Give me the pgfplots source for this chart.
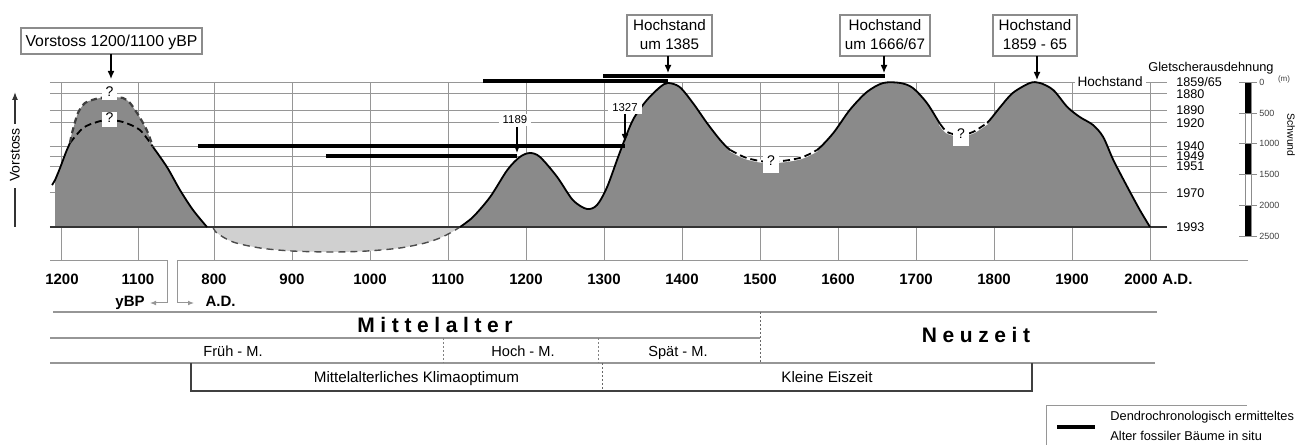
\documentclass[border=0pt]{standalone}
\usepackage{fontspec}
\setmainfont{Liberation Sans}
\usepackage{pgfplots}
\pgfplotsset{compat=1.18}
\usetikzlibrary{arrows.meta}
\definecolor{glgray}{RGB}{138,138,138}
\definecolor{bowlgray}{RGB}{208,208,208}
\definecolor{gridc}{RGB}{150,150,150}
\definecolor{boxc}{RGB}{140,140,140}
\newcommand\fs[1]{\fontsize{#1}{#1}\selectfont}
\newcommand\ls{\kern2.8pt}
\begin{document}
\begin{tikzpicture}
\useasboundingbox (0,0) rectangle (649pt,222.5pt);
% x: years (A.D.; the yBP part is placed left of 800 A.D.: 1100 yBP at 702.6, 1200 yBP at 605.1)
% y: glacier extent in m behind the maximum of 1859/65 (reversed axis)
\begin{axis}[
  at={(0,0)}, anchor=south west, scale only axis,
  width=649pt, height=222.5pt,
  xmin=525.64, xmax=2189.74,
  ymin=-1328.4, ymax=5880.6, y dir=reverse,
  hide axis, clip=false]
% horizontal grid (positions 1859/65 ... 1970)
\pgfplotsinvokeforeach{0,194,454,664,1037,1199,1361,1798}{
  \addplot[gridc, line width=0.5pt] coordinates {(589.7,#1) (2021.8,#1)};}
% vertical grid
\pgfplotsinvokeforeach{605.1,702.6,800,900,1000,1100,1200,1300,1400,1500,1600,1700,1800,1900,2000}{
  \addplot[gridc, line width=0.5pt] coordinates {(#1,0) (#1,2900)};}
% light grey minimum (800-1100 A.D.)
\addplot[fill=bowlgray, draw=none, smooth] coordinates {
 (798.7,2349) (803.8,2446) (824.4,2592) (859,2689) (900,2738) (952.6,2754)
 (996.2,2738) (1038.5,2689) (1070.5,2608) (1089.7,2527) (1105.1,2430) (1115.4,2349)} -- cycle;
\addplot[black!70, line width=0.7pt, dash pattern=on 3.5pt off 2.5pt, smooth] coordinates {
 (798.7,2349) (803.8,2446) (824.4,2592) (859,2689) (900,2738) (952.6,2754)
 (996.2,2738) (1038.5,2689) (1070.5,2608) (1089.7,2527) (1105.1,2430) (1115.4,2349)};
% left advance (1200/1100 yBP)
\addplot[fill=glgray, draw=none, smooth] coordinates {
 (596.2,1588) (602.6,1393) (610.3,1134) (618,826) (625.6,502) (634.6,340) (643.6,292)
 (653.8,259) (666.7,243) (683.3,259) (692.3,340) (701.3,502) (709,664) (715.4,826)
 (721.8,1053) (739.7,1377) (756.4,1750) (773.1,2074) (791,2349)} -- (axis cs:596.2,2349) -- cycle;
% main curve fill
\addplot[fill=glgray, draw=none, smooth] coordinates {
 (1115.4,2349) (1132,2187) (1154,1863) (1176,1426) (1192,1215) (1205,1150) (1218,1215)
 (1240,1539) (1260,1912) (1278,2057) (1291,1993) (1304,1701) (1320,1150) (1337,616)
 (1355,292) (1372,81) (1382,16) (1397,81) (1414,340) (1432,664) (1449,940) (1462,1102)
 (1483,1231) (1513,1296) (1551,1231) (1573,1102) (1594,826) (1615,454) (1637,162)
 (1658,16) (1680,16) (1696,97) (1714,340) (1731,680) (1740,810) (1756,859) (1773,810)
 (1791,664) (1808,405) (1824,178) (1846,16) (1859,16) (1876,130) (1894,405) (1910,567)
 (1927,697) (1940,891) (1953,1264) (1971,1701) (1987,2074) (2000,2349)} -- cycle;
% baseline 1993
\addplot[black!80, line width=0.6pt] coordinates {(589.7,2349) (2021.8,2349)};
% main outline
\addplot[black, line width=0.9pt, smooth] coordinates {
 (1115.4,2349) (1132,2187) (1154,1863) (1176,1426) (1192,1215) (1205,1150) (1218,1215)
 (1240,1539) (1260,1912) (1278,2057) (1291,1993) (1304,1701) (1320,1150) (1337,616)
 (1355,292) (1372,81) (1382,16) (1397,81) (1414,340) (1432,664) (1449,940) (1462,1102)
 (1483,1231) (1513,1296) (1551,1231) (1573,1102) (1594,826) (1615,454) (1637,162)
 (1658,16) (1680,16) (1696,97) (1714,340) (1731,680) (1740,810) (1756,859) (1773,810)
 (1791,664) (1808,405) (1824,178) (1846,16) (1859,16) (1876,130) (1894,405) (1910,567)
 (1927,697) (1940,891) (1953,1264) (1971,1701) (1987,2074) (2000,2349)};
% uncertain parts (dashed)
\addplot[white, line width=1.5pt, smooth] coordinates {
 (1462,1102) (1483,1231) (1513,1296) (1551,1231) (1573,1102)};
\addplot[black, line width=0.9pt, dash pattern=on 3.5pt off 2pt, smooth] coordinates {
 (1462,1102) (1483,1231) (1513,1296) (1551,1231) (1573,1102)};
\addplot[white, line width=1.5pt, smooth] coordinates {
 (1731,680) (1740,810) (1756,859) (1773,810) (1791,664)};
\addplot[black, line width=0.9pt, dash pattern=on 3.5pt off 2pt, smooth] coordinates {
 (1731,680) (1740,810) (1756,859) (1773,810) (1791,664)};
% left peak outlines
\addplot[black, line width=0.9pt, smooth] coordinates {
 (592.3,1669) (596.2,1588) (602.6,1393) (610.3,1134) (615.4,988)};
\addplot[black, line width=0.9pt, smooth] coordinates {
 (721.8,1053) (739.7,1377) (756.4,1750) (773.1,2074) (791,2349)};
\addplot[black, line width=0.9pt, dash pattern=on 3.5pt off 2pt, smooth] coordinates {
 (615.4,988) (632.1,745) (650,648) (664.1,616) (683.3,648) (705.1,778) (721.8,1053)};
\addplot[black!75, line width=1.1pt, dash pattern=on 3pt off 2pt, smooth] coordinates {
 (615.4,988) (618,826) (625.6,502) (634.6,340) (643.6,292) (653.8,259) (666.7,243)
 (683.3,259) (692.3,340) (701.3,502) (709,664) (715.4,826) (721.8,1053)};
% dendrochronological ages of fossil trees in situ
\addplot[black, line width=1.9pt] coordinates {(1145,-21) (1382,-21)};
\addplot[black, line width=1.9pt] coordinates {(1299,-100) (1660,-100)};
\addplot[black, line width=1.9pt] coordinates {(780,1037) (1327,1037)};
\addplot[black, line width=1.9pt] coordinates {(944,1199) (1189,1199)};
\end{axis}
% ---------- annotations (pixel grid of the reference) ----------
\begin{scope}[x=0.5pt,y=-0.5pt,yshift=222.5pt, every node/.style={inner sep=0pt},
  arr/.style={line width=0.6pt,-{Latex[length=4pt,width=3.4pt]}}]
% question-mark boxes
\fill[white] (102,86) rectangle (117,100);
\node[anchor=base, font=\fs{7}] at (109.5,96.5) {?};
\fill[white] (102,112) rectangle (117,127);
\node[anchor=base, font=\fs{7}] at (109.5,123) {?};
\fill[white] (763,153) rectangle (779,173);
\node[anchor=base, font=\fs{7}] at (771,166) {?};
\fill[white] (953,127) rectangle (969,146);
\node[anchor=base, font=\fs{7}] at (961,138.5) {?};
% labelled boxes on top
\draw[boxc, line width=0.6pt, fill=white] (21,28) rectangle (202,54);
\node[anchor=base, font=\fs{7.9}] at (111.5,46.5) {Vorstoss 1200/1100 yBP};
\draw[arr] (111,54) -- (111,79);
\draw[boxc, line width=0.6pt, fill=white] (627,15) rectangle (712,56);
\node[anchor=base, font=\fs{7.6}] at (669.5,30.7) {Hochstand};
\node[anchor=base, font=\fs{7.6}] at (669.5,49.3) {um 1385};
\draw[arr] (668,56) -- (668,73);
\draw[boxc, line width=0.6pt, fill=white] (840,15) rectangle (930,56);
\node[anchor=base, font=\fs{7.6}] at (885,30.7) {Hochstand};
\node[anchor=base, font=\fs{7.6}] at (885,49.3) {um 1666/67};
\draw[arr] (884,56) -- (884,73);
\draw[boxc, line width=0.6pt, fill=white] (993,15) rectangle (1077,56);
\node[anchor=base, font=\fs{7.6}] at (1035,30.7) {Hochstand};
\node[anchor=base, font=\fs{7.6}] at (1035,49.3) {1859 - 65};
\draw[arr] (1037,56) -- (1037,80);
% dated trees
\node[anchor=base, font=\fs{5.7}, fill=white, inner xsep=2pt, inner ysep=1pt] at (515,124) {1189};
\draw[arr] (517,127) -- (517,153);
\node[anchor=base, font=\fs{5.7}, fill=white, inner xsep=2pt, inner ysep=1pt] at (625,111.7) {1327};
\draw[arr] (625,114) -- (625,142);
% left axis label
\draw[black!80, line width=0.6pt] (15,227) -- (15,188);
\draw[black!80, line width=0.6pt, -{Latex[length=4pt,width=3pt]}] (15,124) -- (15,92);
\node[rotate=90, font=\fs{7}] at (15,155) {Vorstoss};
% right side labels
\node[anchor=east, font=\fs{6.8}, fill=white, inner xsep=1.5pt] at (1146,82) {Hochstand};
\node[font=\fs{6.4}] at (1211,68) {Gletscherausdehnung};
\foreach \yy/\tt in {82/1859\slash 65,94/1880,110/1890,123/1920,146/1940,156/1949,166/1951,193/1970,227/1993}
  \node[anchor=west, font=\fs{6.3}] at (1176,\yy) {\tt};
% scale bar
\draw[boxc, line width=0.4pt, fill=white] (1245,82) rectangle (1251,236);
\fill[black] (1245,82) rectangle (1251,113);
\fill[black] (1245,143) rectangle (1251,174);
\fill[black] (1245,205) rectangle (1251,236);
\foreach \yy/\tt in {82/0,113/500,143/1000,174/1500,205/2000,236/2500}{
  \draw[boxc, line width=0.4pt] (1239,\yy) -- (1257,\yy);
  \node[anchor=west, font=\fs{4.5}, text=black!75] at (1259,\yy) {\tt};}
\node[font=\fs{4}, text=black!75] at (1284,79) {(m)};
\node[rotate=-90, font=\fs{5.2}] at (1291,135) {Schwund};
% x axis line and brackets
\draw[gridc, line width=0.5pt] (50,261) -- (167,261) -- (167,303);
\draw[gridc, line width=0.5pt, -{Latex[length=3pt,width=2.4pt]}] (167,303) -- (150,303);
\draw[gridc, line width=0.5pt] (1248,261) -- (177,261) -- (177,303);
\draw[gridc, line width=0.5pt, -{Latex[length=3pt,width=2.4pt]}] (177,303) -- (194,303);
\foreach \xx/\tt in {62/1200,138/1100,214/800,292/900,370/1000,448/1100,526/1200,604/1300,682/1400,760/1500,838/1600,916/1700,994/1800,1072/1900}
  \node[anchor=base, font=\fs{7.5}\bfseries] at (\xx,284.3) {\tt};
\node[anchor=base, font=\fs{7.5}\bfseries] (t2000) at (1141,284.3) {2000};
\node[anchor=base west, font=\fs{7.5}\bfseries] at ([xshift=2pt]t2000.base east) {A.D.};
\node[anchor=base, font=\fs{7.5}\bfseries] at (130,306.7) {yBP};
\node[anchor=base, font=\fs{7.5}\bfseries] at (220.5,307) {A.D.};
% period table
\draw[gridc, line width=0.6pt] (53,312) -- (1157,312);
\draw[gridc, line width=0.6pt] (50,338) -- (760,338);
\draw[gridc, line width=0.6pt] (50,363) -- (1155,363);
\draw[black!60, line width=0.5pt, dash pattern=on 1pt off 1pt] (760,312) -- (760,363);
\draw[black!50, line width=0.5pt, dash pattern=on 1pt off 1pt] (443,338) -- (443,363);
\draw[black!50, line width=0.5pt, dash pattern=on 1pt off 1pt] (598,338) -- (598,363);
\draw[black!60, line width=0.5pt, dash pattern=on 1pt off 1pt] (602,363) -- (602,391);
\draw[black!75, line width=0.8pt] (191,363) -- (191,391) -- (1032,391) -- (1032,363);
\node[anchor=base, font=\fs{10.5}\bfseries] at (435,333)
  {M\ls i\ls t\ls t\ls e\ls l\ls a\ls l\ls t\ls e\ls r};
\node[anchor=base, font=\fs{10.5}\bfseries] at (976,343) {N\ls e\ls u\ls z\ls e\ls i\ls t};
\node[anchor=base, font=\fs{7.3}] at (233,356.7) {Früh - M.};
\node[anchor=base, font=\fs{7.3}] at (523,356.7) {Hoch - M.};
\node[anchor=base, font=\fs{7.3}] at (678,356.7) {Spät - M.};
\node[anchor=base, font=\fs{7.6}] at (416.5,382.7) {Mittelalterliches Klimaoptimum};
\node[anchor=base, font=\fs{7.6}] at (827,382.7) {Kleine Eiszeit};
% legend
\draw[gridc, line width=0.5pt] (1046,445) -- (1046,406) -- (1247,406);
\draw[black, line width=2pt] (1057,427) -- (1095,427);
\node[anchor=base west, font=\fs{6.4}] at (1110,420.7) {Dendrochronologisch ermitteltes};
\node[anchor=base west, font=\fs{6.4}] at (1110,440.7) {Alter fossiler Bäume in situ};
\end{scope}
\end{tikzpicture}
\end{document}
